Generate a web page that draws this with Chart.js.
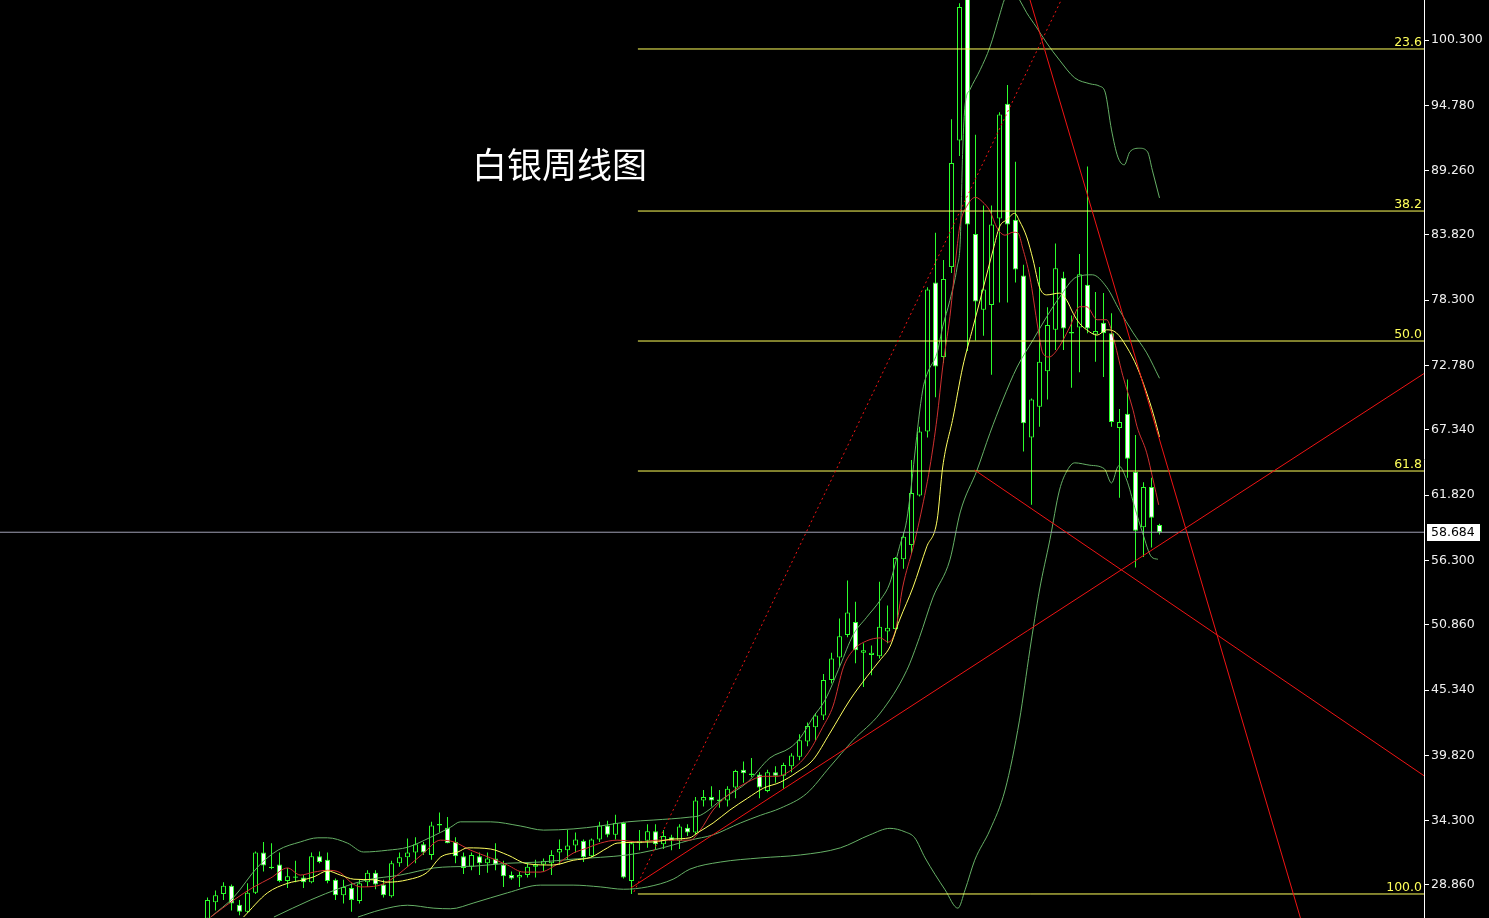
<!DOCTYPE html>
<html>
<head>
<meta charset="utf-8">
<title>白银周线图</title>
<script src="https://cdn.jsdelivr.net/npm/chart.js@4.4.1/dist/chart.umd.min.js"></script>
<style>
  html, body { margin: 0; padding: 0; background: #000; overflow: hidden; }
  #wrap { position: relative; width: 1489px; height: 918px; }
  #title { position: absolute; left: 472px; top: 145px; color: #fff; font: 35px "Noto Sans CJK SC", sans-serif; line-height: 1; white-space: nowrap; }
</style>
</head>
<body>
<div id="wrap">
  <canvas id="chart"></canvas>
  <div id="title">白银周线图</div>
</div>
<script>
// weekly candles, oldest first (index = week number)
const opens = [26.0,27.4,28.1,28.8,27.2,26.6,28.2,31.6,30.4,30.6, 29.2,29.5,29.5,29.1,31.3,31.0,29.3,28.0,28.6,27.5,
  29.1,29.9,28.9,27.9,30.7,31.2,31.6,32.3,31.4,33.9, 33.7,32.5,31.3,30.4,31.3,30.7,31.1,30.6,29.7,29.5,
  29.7,30.4,30.6,30.7,31.6,31.8,32.2,32.6,31.3,32.7, 33.9,33.1,34.1,29.2,32.4,32.6,33.4,32.3,32.9,32.6,
  33.7,33.3,36.0,36.3,36.0,36.0,37.1,38.6,38.2,38.2, 36.8,38.4,38.1,38.9,39.7,41.0,42.2,43.2,46.2,48.1,
  50.0,51.1,48.5,48.3,48.2,50.3,50.5,56.4,57.6,61.8, 67.2,79.8,73.5,81.1,91.8,106.0,83.9,77.5,77.9,85.2,
  94.9,85.1,80.4,66.7,69.3,72.3,75.8,80.2,75.5,76.0, 79.6,75.4,76.4,75.5,67.5,68.7,63.8,59.1,62.5,59.3];
const highs = [27.8,28.4,29.1,28.9,27.6,29.0,31.7,32.5,32.4,31.6, 30.3,30.9,29.7,31.6,31.7,31.6,29.4,29.3,29.0,29.3,
  30.1,30.1,29.3,30.9,31.6,32.8,32.9,32.5,34.2,35.0, 34.6,32.9,31.6,31.6,31.6,31.6,32.4,30.9,30.0,30.0,
  30.7,31.0,31.1,31.8,32.7,33.5,33.3,32.7,32.8,34.2, 34.3,34.8,34.2,32.5,33.5,34.0,34.0,33.5,33.1,34.0,
  34.0,36.3,36.9,37.2,36.9,37.2,38.6,39.3,39.6,38.4, 38.6,38.9,39.2,40.0,41.6,42.6,43.4,46.7,48.5,51.4,
  54.6,52.8,49.3,49.1,54.5,52.5,56.6,58.7,64.8,67.6, 79.4,84.0,81.7,93.6,103.4,107.0,92.3,86.3,86.3,94.2,
  96.5,90.0,81.3,70.0,81.1,77.7,83.1,80.7,77.0,82.2, 89.6,79.0,78.9,77.2,69.1,71.6,66.9,62.9,63.3,59.4];
const lows = [25.6,26.7,27.6,26.7,26.3,26.5,28.1,30.0,30.2,29.1, 28.6,29.1,28.6,29.0,30.7,29.0,27.6,27.3,26.6,27.3,
  28.7,28.5,27.8,27.8,30.4,30.4,30.7,31.4,31.0,33.3, 32.4,30.7,29.8,30.1,29.7,29.9,30.1,28.7,29.3,28.7,
  29.5,29.5,30.0,29.7,30.6,31.0,31.6,30.8,31.2,32.5, 32.9,32.7,29.4,28.1,31.8,32.0,31.9,31.9,31.8,31.9,
  33.0,33.1,35.5,35.5,35.4,35.5,36.2,37.5,38.0,36.2, 36.7,37.5,37.0,38.4,39.4,40.6,41.1,42.8,45.9,47.3,
  49.8,47.6,45.6,46.6,48.0,49.3,50.3,55.6,56.9,61.7, 66.7,70.1,73.0,80.6,90.5,74.0,74.9,75.3,72.0,78.1,
  78.1,79.8,65.5,61.0,67.6,69.9,74.1,74.1,70.9,72.2, 75.5,73.1,71.8,67.6,61.6,63.3,55.7,56.6,57.4,58.5];
const closes = [27.6,28.0,28.8,27.3,26.6,28.2,31.6,30.5,30.3,29.2, 29.6,29.55,29.1,31.3,30.8,29.2,28.0,28.7,27.6,29.0,
  29.9,28.9,28.0,30.7,31.2,31.6,32.3,31.6,33.9,34.0, 32.4,31.3,30.3,31.4,30.7,31.1,30.6,29.6,29.4,29.7,
  30.4,30.6,30.9,31.4,31.9,32.2,32.7,31.2,32.7,33.9, 33.1,34.1,29.5,32.4,32.6,33.4,32.3,33.0,32.6,33.8,
  33.3,36.0,36.3,36.0,36.05,37.0,38.5,38.3,38.25,37.1, 38.4,38.1,39.0,39.8,41.1,42.3,43.2,46.2,48.0,49.9,
  51.9,48.7,48.7,48.5,50.7,50.6,56.5,58.3,62.0,67.2, 79.2,72.7,80.1,89.9,103.1,84.7,78.2,79.2,84.7,94.0,
  84.7,80.9,67.9,69.9,73.1,76.2,81.0,75.9,75.6,80.5, 75.9,75.7,75.5,68.0,68.0,64.9,58.8,62.5,59.9,58.684];

// indicator lines: [week, price]
const maFast = [[0.4,26.15],[3.3,27.6],[5.8,28.7],[7.9,29.45],[10.0,30.3],[11.6,29.7],[13.3,29.95],[15.0,30.1],[16.6,29.9],
  [17.9,29.1],[19.1,28.7],[21.3,28.8],[22.9,29.3],[25.0,30.4],[27.0,31.55],[29.1,32.65],[30.8,32.5],[32.9,31.8],[35.4,31.15],
  [37.5,30.55],[39.5,29.95],[41.6,29.95],[43.2,30.4],[45.7,31.55],[47.5,32.0],[49.1,32.4],[51.2,32.65],[54.1,32.5],[56.2,32.65],
  [60.3,32.65],[61.6,33.5],[63.2,35.2],[65.3,36.6],[67.5,37.55],[69.5,38.05],[71.2,38.05],[72.8,38.5],[74.9,39.85],[76.9,42.2],
  [78.2,44.0],[79.5,47.3],[80.7,48.7],[82.4,49.5],[84.1,49.75],[85.1,49.4],[86.0,50.4],[86.9,54.05],[88.2,57.4],[89.0,59.7],
  [90.3,64.2],[91.2,68.4],[91.9,72.65],[92.8,76.9],[93.7,82.8],[94.1,84.8],[95.0,86.35],[96.0,87.0],[96.9,86.6],[97.8,85.85],
  [98.7,84.4],[99.7,83.8],[100.7,84.05],[101.3,84.0],[101.9,82.7],[102.8,80.25],[103.8,75.95],[104.4,73.85],[105.2,73.5],
  [106.2,74.1],[107.8,76.05],[109.0,77.75],[109.9,77.75],[111.2,76.65],[112.4,76.65],[113.2,75.2],[114.4,71.95],[115.7,69.0],
  [116.2,67.6],[117.4,65.4],[118.2,63.1],[118.9,61.0]];
const maSlow = [[4.5,26.15],[7.5,28.2],[10.0,29.0],[12.0,29.3],[13.3,29.55],[15.0,30.05],[16.6,29.7],[18.3,29.35],[20.8,29.3],
  [22.5,29.1],[25.0,29.3],[27.5,29.95],[29.1,31.2],[31.3,31.65],[32.5,32.0],[35.4,31.9],[37.5,31.4],[40.0,30.65],[43.2,30.55],
  [45.7,30.95],[47.9,31.2],[50.0,32.0],[51.2,32.4],[55.7,32.5],[58.2,32.75],[60.3,32.85],[61.2,33.25],[63.2,34.1],[65.3,35.2],
  [67.5,36.2],[69.5,37.05],[71.6,37.55],[73.7,38.4],[75.7,39.45],[77.8,41.7],[80.3,44.5],[82.4,46.45],[84.1,47.9],[85.3,49.0],
  [86.5,51.25],[88.2,54.05],[89.9,57.45],[91.2,59.7],[91.9,64.2],[93.2,68.4],[94.4,72.65],[95.7,76.05],[96.9,79.15],[98.2,82.55],
  [99.0,84.5],[99.9,85.1],[100.9,85.65],[101.5,85.0],[102.4,83.65],[103.2,81.7],[104.0,79.4],[104.9,78.75],[106.5,78.9],
  [107.4,78.3],[108.2,77.2],[109.0,76.35],[109.9,75.8],[111.2,75.35],[112.4,75.8],[113.6,75.55],[114.9,74.35],[116.2,72.65],
  [117.4,70.45],[118.2,68.75],[119.0,66.75]];
const bandUpper = [[0.4,26.15],[3.3,27.85],[6.3,30.4],[8.8,31.8],[11.6,32.5],[13.8,32.85],[15.0,32.85],[17.5,32.4],[19.5,31.65],
  [22.5,31.8],[25.0,32.05],[27.9,32.9],[30.4,33.75],[31.6,34.2],[35.4,34.2],[39.1,33.85],[42.0,33.5],[45.7,33.6],[49.1,33.85],
  [52.5,34.2],[55.7,34.35],[60.3,34.6],[61.6,34.75],[64.5,36.2],[67.5,37.55],[70.3,39.6],[72.8,40.45],[74.1,41.3],[75.7,43.05],
  [77.2,44.5],[79.1,47.45],[80.7,50.0],[82.4,51.5],[84.1,52.95],[85.3,54.4],[86.5,57.45],[87.4,59.7],[89.4,70.7],[90.0,72.15],
  [91.2,73.85],[91.9,76.05],[92.8,78.3],[93.7,81.1],[94.1,83.4],[94.4,91.0],[94.7,94.8],[95.3,96.1],[96.6,97.8],[97.8,99.7],
  [99.1,102.6],[99.6,103.7],[100.5,104.7],[101.5,103.7],[102.4,102.6],[103.6,101.4],[104.9,100.05],[106.5,98.6],[108.4,97.1],
  [110.3,96.6],[111.5,96.4],[112.2,95.9],[113.0,92.7],[113.8,90.4],[114.6,89.75],[115.3,90.85],[116.5,91.15],[117.5,90.85],
  [118.1,89.3],[119.0,86.95]];
const bandMiddle = [[8.3,26.15],[12.9,27.6],[16.6,28.6],[20.0,29.3],[24.1,29.7],[28.3,30.3],[30.4,30.4],[33.3,30.45],[37.5,30.7],
  [41.6,30.8],[45.7,31.05],[49.1,31.2],[52.5,31.4],[55.7,31.8],[58.2,32.25],[60.3,32.65],[63.2,33.1],[66.6,34.1],[69.1,34.75],
  [71.6,35.35],[74.9,36.6],[77.8,38.85],[80.7,41.1],[84.1,43.4],[87.4,47.0],[89.0,49.8],[90.7,53.2],[92.8,56.35],[94.1,60.4],
  [96.2,63.95],[97.8,67.05],[99.4,69.85],[101.2,72.65],[103.2,74.95],[104.9,76.9],[106.5,78.55],[108.6,80.25],[110.6,80.45],
  [112.4,79.4],[114.0,77.45],[115.7,75.55],[117.4,73.85],[119.0,71.7]];
const bandLower = [[18.8,26.15],[21.6,26.75],[25.0,27.15],[28.3,26.9],[30.4,26.85],[33.3,27.35],[37.5,28.2],[41.6,28.85],
  [45.7,28.85],[49.1,28.7],[52.0,28.5],[55.0,28.7],[58.2,29.35],[60.3,30.2],[64.1,30.8],[69.1,31.15],[74.1,31.4],[79.1,32.0],
  [82.8,33.1],[85.3,33.65],[87.2,33.35],[88.4,32.85],[89.7,31.15],[92.2,28.45],[93.8,26.9],[94.7,28.45],[95.9,30.95],[97.8,33.5],
  [99.7,36.9],[101.5,42.8],[102.8,48.75],[104.0,53.8],[105.3,58.05],[106.5,62.25],[107.5,63.95],[108.4,64.55],[110.3,64.35],
  [112.1,64.05],[113.0,62.85],[113.9,64.3],[114.9,63.1],[115.9,60.8],[116.9,58.6],[118.0,56.6],[118.8,56.4]];

// drawn objects
const trendDotted = [[53.3,28.27],[108,105.5]];
const trendSupport = [[52.9,28.6],[152.06,72.1]];
const trendSteep = [[101.5,106.7],[138,22.9]];
const trendFall = [[95.9,63.94],[152.06,38.1]];
const fibLevels = [99.54, 85.84, 74.85, 63.86, 28.10];
const fibNames = ['23.6', '38.2', '50.0', '61.8', '100.0'];
const fibFrom = 53.8;
const lastPrice = 58.684;

const yTicks = [100.3, 94.78, 89.26, 83.82, 78.3, 72.78, 67.34, 61.82, 56.3, 50.86, 45.34, 39.82, 34.3, 28.86];

const X_MIN = -25.9375, X_MAX = 152.0625;
const GREEN = '#2cff2c', BAND = '#66b066', MA_RED = '#d03030', MA_YEL = '#ffff60';
const TREND = '#f01414', FIB = '#ffff5a';

const pts = arr => arr.map(p => ({x: p[0], y: p[1]}));

const wickData = highs.map((h, i) => ({x: i, y: [lows[i], h]}));
const bodyData = opens.map((o, i) => {
    let lo = Math.min(o, closes[i]), hi = Math.max(o, closes[i]);
    if (hi - lo < 0.12) { const m = (lo + hi) / 2; lo = m - 0.06; hi = m + 0.06; }
    return {x: i, y: [lo, hi]};
});
// falling weeks are filled white, rising weeks hollow
const bodyFill = opens.map((o, i) => closes[i] < o ? '#ffffff' : '#000000');

function lineSet(data, color, extra) {
    return Object.assign({
        type: 'line', data: pts(data), borderColor: color, borderWidth: 1,
        pointRadius: 0, fill: false, cubicInterpolationMode: 'monotone', order: 2
    }, extra || {});
}

const datasets = [
    { type: 'bar', data: wickData, backgroundColor: GREEN, borderWidth: 0, barThickness: 1,
      grouped: false, inflateAmount: 0, order: 6 },
    { type: 'bar', data: bodyData, backgroundColor: bodyFill, borderColor: GREEN, borderWidth: 1,
      borderSkipped: false, barThickness: 5, grouped: false, inflateAmount: 0, order: 5 },
    lineSet(bandUpper, BAND, {order: 3}),
    lineSet(bandMiddle, BAND, {order: 3}),
    lineSet(bandLower, BAND, {order: 3}),
    lineSet(maSlow, MA_YEL),
    lineSet(maFast, MA_RED),
    lineSet(trendDotted, TREND, {order: 1, borderDash: [2, 3]}),
    lineSet(trendSupport, TREND, {order: 1}),
    lineSet(trendSteep, TREND, {order: 1}),
    lineSet(trendFall, TREND, {order: 1}),
    lineSet([[X_MIN, lastPrice], [X_MAX, lastPrice]], '#a0a0b4', {order: 1})
];
fibLevels.forEach(v => datasets.push(lineSet([[fibFrom, v], [X_MAX, v]], FIB, {order: 1})));

// fib captions and the last price tag
const overlay = {
    id: 'overlay',
    afterDraw(chart) {
        const {ctx, chartArea, scales: {y}} = chart;
        ctx.save();
        ctx.font = '12.5px "DejaVu Sans"';
        ctx.fillStyle = FIB;
        ctx.textAlign = 'right';
        ctx.textBaseline = 'alphabetic';
        fibLevels.forEach((v, i) => {
            ctx.fillText(fibNames[i], chartArea.right - 2, Math.round(y.getPixelForValue(v)) - 3);
        });
        const py = Math.round(y.getPixelForValue(lastPrice));
        ctx.fillStyle = '#ffffff';
        ctx.fillRect(chartArea.right + 3, py - 8, 53, 17);
        ctx.fillStyle = '#000000';
        ctx.textAlign = 'left';
        ctx.textBaseline = 'middle';
        ctx.fillText(lastPrice.toFixed(3), chartArea.right + 7, py + 1);
        ctx.restore();
    }
};

new Chart(document.getElementById('chart'), {
    type: 'bar',
    data: { datasets },
    options: {
        responsive: true,
        maintainAspectRatio: false,
        animation: false,
        devicePixelRatio: 1,
        layout: { padding: 0 },
        plugins: { legend: { display: false }, tooltip: { enabled: false } },
        scales: {
            x: { type: 'linear', min: X_MIN, max: X_MAX, offset: false, display: false },
            y: {
                position: 'right', min: 26.07, max: 103.682,
                afterBuildTicks: s => { s.ticks = yTicks.map(v => ({value: v})); },
                afterFit: s => { s.width = 65; s.paddingTop = 0; s.paddingBottom = 0; },
                grid: { drawOnChartArea: false, drawTicks: true, tickLength: 5, tickColor: '#ffffff', color: '#ffffff' },
                border: { display: true, color: '#ffffff', width: 1 },
                ticks: { color: '#f0f0f0', padding: 2, font: { family: 'DejaVu Sans', size: 12.5 },
                         callback: v => v.toFixed(3) }
            }
        }
    },
    plugins: [overlay]
});
</script>
</body>
</html>
